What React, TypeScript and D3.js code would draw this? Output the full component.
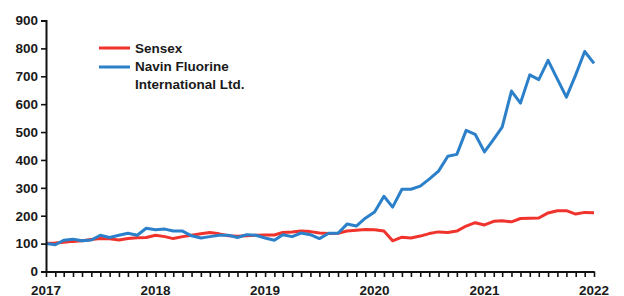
import React, { useEffect, useRef } from 'react';
import * as d3 from 'd3';

const sensex = [
  100, 102, 105, 108, 110, 115, 118, 117, 113, 118, 121, 122,
  130, 125, 118, 125, 130, 135, 140, 135, 128, 126, 128, 130,
  131, 131, 140, 142, 145, 143, 138, 136, 137, 145, 148, 151,
  150, 145, 110, 123, 120, 127, 136, 142, 140, 145, 163, 175,
  167, 180, 182, 178, 190, 191, 192, 210, 218, 218, 206, 212,
  211,
];
const navin = [
  100, 96, 112, 116, 110, 113, 130, 122, 130, 137, 130, 155,
  150, 152, 145, 145, 128, 120, 125, 130, 130, 122, 132, 130,
  120, 112, 132, 125, 138, 132, 118, 137, 137, 170, 163, 191,
  213, 270, 231, 295, 295, 306, 331, 360, 413, 420, 506, 492,
  429, 475, 518, 647, 604, 705, 688, 757, 690, 625, 705, 789,
  746,
];
const yTicks = [0, 100, 200, 300, 400, 500, 600, 700, 800, 900];
const yearTicks = ['2017', '2018', '2019', '2020', '2021', '2022'];
const seriesNames = ['Sensex', 'Navin Fluorine', 'International Ltd.'];

const RED = '#f0332c';
const BLUE = '#2b80c9';
const FONT = '"Liberation Sans", Arial, sans-serif';

export default function App() {
  const ref = useRef<SVGSVGElement>(null);

  useEffect(() => {
    const svg = d3.select(ref.current);
    svg.selectAll('*').remove();
    const width = 624;
    const height = 296;
    const margin = { left: 46, right: 30, top: 20.5, bottom: 24.5 };

    const start = new Date(2017, 0, 1);
    const months = d3.timeMonth.range(start, new Date(2022, 0, 2));

    const x = d3
      .scaleTime()
      .domain([start, new Date(2022, 0, 1)])
      .range([margin.left, width - margin.right]);
    const y = d3
      .scaleLinear()
      .domain([0, 900])
      .range([height - margin.bottom, margin.top]);

    const line = d3
      .line<number>()
      .x((d, i) => x(months[i]))
      .y(d => y(d));

    const g = svg.append('g');

    g.append('path')
      .datum(sensex)
      .attr('fill', 'none')
      .attr('stroke', RED)
      .attr('stroke-width', 3)
      .attr('stroke-linejoin', 'round')
      .attr('d', line);

    g.append('path')
      .datum(navin)
      .attr('fill', 'none')
      .attr('stroke', BLUE)
      .attr('stroke-width', 3)
      .attr('stroke-linejoin', 'round')
      .attr('d', line);

    // y axis
    const yAxis = g
      .append('g')
      .attr('transform', `translate(${margin.left},0)`)
      .call(
        d3
          .axisLeft(y)
          .tickValues(yTicks)
          .tickSize(5)
          .tickPadding(3)
          .tickFormat(d3.format('d'))
      );
    yAxis.select('.domain').attr('stroke', '#111').attr('stroke-width', 2);
    yAxis.selectAll('.tick line').attr('stroke', '#111').attr('stroke-width', 1.6);
    yAxis
      .selectAll('.tick text')
      .attr('fill', '#1a1a1a')
      .attr('font-family', FONT)
      .attr('font-weight', 'bold')
      .attr('font-size', 13.5);

    // x axis
    const xAxis = g
      .append('g')
      .attr('transform', `translate(0,${height - margin.bottom})`)
      .call(
        d3
          .axisBottom(x)
          .tickValues(months)
          .tickSize(5.5)
          .tickSizeOuter(0)
          .tickFormat(() => '')
      );
    xAxis.select('.domain').attr('stroke', '#111').attr('stroke-width', 2);
    xAxis.selectAll('.tick line').attr('stroke', '#111').attr('stroke-width', 1.6);

    g.append('g')
      .selectAll('text')
      .data(yearTicks)
      .enter()
      .append('text')
      .attr('x', (d, i) => x(months[i * 12]))
      .attr('y', height - margin.bottom + 23)
      .attr('text-anchor', 'middle')
      .attr('fill', '#1a1a1a')
      .attr('font-family', FONT)
      .attr('font-weight', 'bold')
      .attr('font-size', 13.5)
      .text(d => d);

    // legend
    const legend = g.append('g').attr('transform', 'translate(99,48)');
    legend
      .append('line')
      .attr('x1', 0)
      .attr('x2', 31)
      .attr('stroke', RED)
      .attr('stroke-width', 3);
    legend
      .append('line')
      .attr('x1', 0)
      .attr('x2', 31)
      .attr('y1', 19)
      .attr('y2', 19)
      .attr('stroke', BLUE)
      .attr('stroke-width', 3);
    legend
      .selectAll('text')
      .data(seriesNames)
      .enter()
      .append('text')
      .attr('x', 36)
      .attr('y', (d, i) => 5 + i * 18)
      .attr('fill', '#1a1a1a')
      .attr('font-family', FONT)
      .attr('font-weight', 'bold')
      .attr('font-size', 13.5)
      .text(d => d);
  }, []);

  return (
    <svg
      ref={ref}
      width={624}
      height={296}
      style={{ position: 'absolute', left: 0, top: 0, background: '#fff' }}
    />
  );
}
